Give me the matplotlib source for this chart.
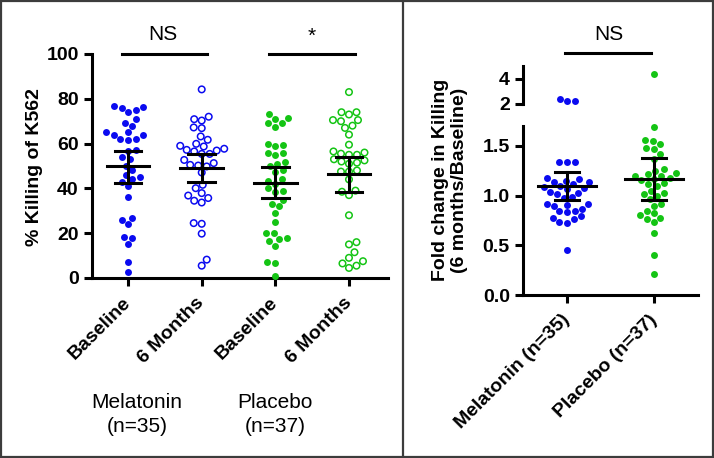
import matplotlib
matplotlib.use("Agg")
import matplotlib.pyplot as plt
from matplotlib.patches import Rectangle
from matplotlib.lines import Line2D
import numpy as np

plt.rcParams["font.family"] = ["Liberation Sans", "DejaVu Sans"]

# ---- left panel: % killing of K562 ----
left_ticks = ["Baseline", "6 Months", "Baseline", "6 Months"]
mel_base = [77, 76.5, 76, 75, 74, 71, 69, 68, 65, 65, 64, 64, 62, 62, 61.5, 57, 56.5,
            54, 53, 50, 48, 46, 45, 44, 43, 41, 36, 27, 26, 24, 18.5, 18, 15, 7, 2.5]
mel_6mo = [84.2, 72, 70.9, 70.3, 67.2, 66.9, 63.2, 61.7, 59.9, 59, 58.7, 57.7, 57.2, 56.9,
           56.5, 55.4, 55.4, 52.7, 51.3, 50.5, 50.2, 49.8, 47.1, 41.6, 40.1, 37.9, 36.8,
           35.7, 34.5, 33.7, 24.5, 24.2, 19.8, 8.2, 5.5]
pla_base = [73, 71.3, 71, 69.1, 69, 67.5, 59.7, 59.5, 59, 56, 56, 55, 52, 51, 50, 48, 47.5,
            44, 43.5, 42, 40, 39, 38.5, 35, 33, 32, 29, 25, 20, 20, 18, 17.5, 16.5, 14.5,
            7, 6.5, 1]
pla_6mo = [83, 74, 74, 73, 70.5, 70.5, 70, 68, 67, 64, 59.5, 56.5, 56, 55.5, 55, 55, 53,
           52.5, 52, 51.5, 51, 48, 47.5, 47.5, 44, 39, 38.5, 37, 28, 16, 15, 11.5, 9, 7.5,
           6.5, 5.5, 4.5]
left_means = [49.8, 49.0, 42.6, 46.4]
left_ci_lo = [42.6, 42.8, 35.8, 38.6]
left_ci_hi = [56.9, 55.4, 49.5, 53.9]

# ---- right panel: fold change ----
right_ticks = ["Melatonin (n=35)", "Placebo (n=37)"]
mel_fold = [2.42, 2.2, 2.2, 1.34, 1.34, 1.34, 1.18, 1.17, 1.15, 1.14, 1.14, 1.12, 1.10,
            1.09, 1.08, 1.07, 1.04, 1.03, 1.02, 0.99, 0.98, 0.92, 0.92, 0.91, 0.90, 0.87,
            0.85, 0.84, 0.83, 0.79, 0.77, 0.76, 0.73, 0.72, 0.45]
pla_fold = [4.38, 1.69, 1.56, 1.55, 1.52, 1.48, 1.47, 1.42, 1.37, 1.27, 1.25, 1.23, 1.22,
            1.2, 1.2, 1.18, 1.17, 1.16, 1.13, 1.12, 1.1, 1.05, 1.03, 1.02, 1.0, 0.97, 0.92,
            0.9, 0.85, 0.82, 0.8, 0.77, 0.76, 0.73, 0.62, 0.4, 0.21]
fold_means = [1.10, 1.167]
fold_ci_lo = [0.96, 0.957]
fold_ci_hi = [1.233, 1.377]

BLUE = "#0a0af0"
GREEN = "#14c414"
LW = 2.2
W, H = 714, 458


def swarm_x(ax, xc, vals, diam=7.6, step=0.5):
    """simple deterministic beeswarm, done in pixel space"""
    vals = np.asarray(vals, float)
    pts = ax.transData.transform(np.column_stack([np.full(len(vals), xc), vals]))
    placed = []
    xs = np.zeros(len(vals))
    for n, i in enumerate(np.argsort(vals)):
        px, py = pts[i]
        k = 0
        while True:
            offs = [0.0] if k == 0 else ([k * step, -k * step] if n % 2 else [-k * step, k * step])
            ok = None
            for o in offs:
                if all((px + o - qx) ** 2 + (py - qy) ** 2 >= diam ** 2 for qx, qy in placed):
                    ok = o
                    break
            if ok is not None:
                break
            k += 1
        placed.append((px + ok, py))
        xs[i] = px + ok
    return ax.transData.inverted().transform(np.column_stack([xs, pts[:, 1]]))[:, 0]


def style(ax):
    for s in ["top", "right"]:
        ax.spines[s].set_visible(False)
    for s in ["left", "bottom"]:
        ax.spines[s].set_linewidth(LW)
    ax.tick_params(width=LW, length=6, labelsize=14)
    for lab in ax.get_yticklabels():
        lab.set_fontweight("bold")


def draw_stats(ax, x, m, lo, hi, half_mean, half_cap):
    ax.plot([x - half_mean, x + half_mean], [m, m], color="black", lw=LW, zorder=4)
    ax.plot([x, x], [lo, hi], color="black", lw=LW, zorder=4)
    for v in (lo, hi):
        ax.plot([x - half_cap, x + half_cap], [v, v], color="black", lw=LW, zorder=4)


fig = plt.figure(figsize=(W / 100, H / 100), dpi=100)

# left panel
axL = fig.add_axes([92 / W, 1 - 278 / H, 296 / W, 224 / H])
axL.set_xlim(-0.49, 3.53)
axL.set_ylim(0, 100)
axL.set_yticks([0, 20, 40, 60, 80, 100])
axL.set_xticks(range(4))
axL.set_xticklabels(left_ticks, rotation=45, ha="right", va="center",
                    rotation_mode="anchor", fontweight="bold", fontsize=14)
style(axL)
axL.tick_params(axis="x", pad=10)

left_data = [mel_base, mel_6mo, pla_base, pla_6mo]
left_cols = [BLUE, BLUE, GREEN, GREEN]
left_filled = [True, False, True, False]
for i, vals in enumerate(left_data):
    xs = swarm_x(axL, i, vals)
    if left_filled[i]:
        axL.scatter(xs, vals, s=25, color=left_cols[i], linewidths=0, zorder=3, clip_on=False)
    else:
        axL.scatter(xs, vals, s=22, facecolors="none", edgecolors=left_cols[i],
                    linewidths=1.1, zorder=3, clip_on=False)
    draw_stats(axL, i, left_means[i], left_ci_lo[i], left_ci_hi[i], 0.29, 0.18)

axL.plot([-0.08, 1.07], [100, 100], color="black", lw=LW, clip_on=False)
axL.plot([1.92, 3.08], [100, 100], color="black", lw=LW, clip_on=False)
fig.text(163 / W, 1 - 34 / H, "NS", ha="center", va="center", fontsize=15)
fig.text(312 / W, 1 - 36 / H, "*", ha="center", va="center", fontsize=15)
fig.text(35 / W, 1 - 167 / H, "% Killing of K562", rotation=90, ha="center",
         va="center", fontsize=14, fontweight="bold")
fig.text(137 / W, 1 - 402 / H, "Melatonin", ha="center", va="center", fontsize=15)
fig.text(137 / W, 1 - 426 / H, "(n=35)", ha="center", va="center", fontsize=15)
fig.text(275 / W, 1 - 402 / H, "Placebo", ha="center", va="center", fontsize=15)
fig.text(275 / W, 1 - 426 / H, "(n=37)", ha="center", va="center", fontsize=15)

# right panel, broken y axis
axR = fig.add_axes([523 / W, 1 - 295 / H, 175 / W, 169 / H])
axU = fig.add_axes([523 / W, 1 - 104 / H, 175 / W, 38 / H])
for a in (axR, axU):
    a.set_xlim(-0.506, 1.506)
axR.set_ylim(0, 1.7)
axR.set_yticks([0, 0.5, 1.0, 1.5])
axR.set_yticklabels(["0.0", "0.5", "1.0", "1.5"])
axR.set_xticks([0, 1])
axR.set_xticklabels(right_ticks, rotation=45, ha="right", va="center",
                    rotation_mode="anchor", fontweight="bold", fontsize=13.5)
style(axR)
axR.tick_params(axis="x", pad=10)
axU.set_ylim(2, 5)
axU.set_yticks([2, 4])
style(axU)
axU.spines["bottom"].set_visible(False)
axU.set_xticks([])

right_data = [mel_fold, pla_fold]
right_cols = [BLUE, GREEN]
for i, vals in enumerate(right_data):
    vals = np.asarray(vals)
    low = vals[vals < 1.7]
    high = vals[vals >= 1.7]
    axR.scatter(swarm_x(axR, i, low), low, s=25, color=right_cols[i], linewidths=0,
                zorder=3, clip_on=False)
    if len(high):
        axU.scatter(swarm_x(axU, i, high), high, s=25, color=right_cols[i], linewidths=0,
                    zorder=3, clip_on=False)
    draw_stats(axR, i, fold_means[i], fold_ci_lo[i], fold_ci_hi[i], 0.33, 0.14)

axU.plot([-0.02, 0.97], [6.04, 6.04], color="black", lw=LW, clip_on=False)
fig.text(609 / W, 1 - 34 / H, "NS", ha="center", va="center", fontsize=15)
fig.text(450 / W, 1 - 180 / H, "Fold change in Killing\n(6 months/Baseline)", rotation=90,
         ha="center", va="center", fontsize=14, fontweight="bold", multialignment="center")

# panel frames
fig.add_artist(Rectangle((0.001, 0.002), 0.997, 0.996, transform=fig.transFigure,
                         fill=False, edgecolor="#3c3c3c", lw=1.6))
fig.add_artist(Line2D([403 / W, 403 / W], [0, 1], transform=fig.transFigure,
                      color="#3c3c3c", lw=1.6))

fig.savefig("out.png", dpi=100)
